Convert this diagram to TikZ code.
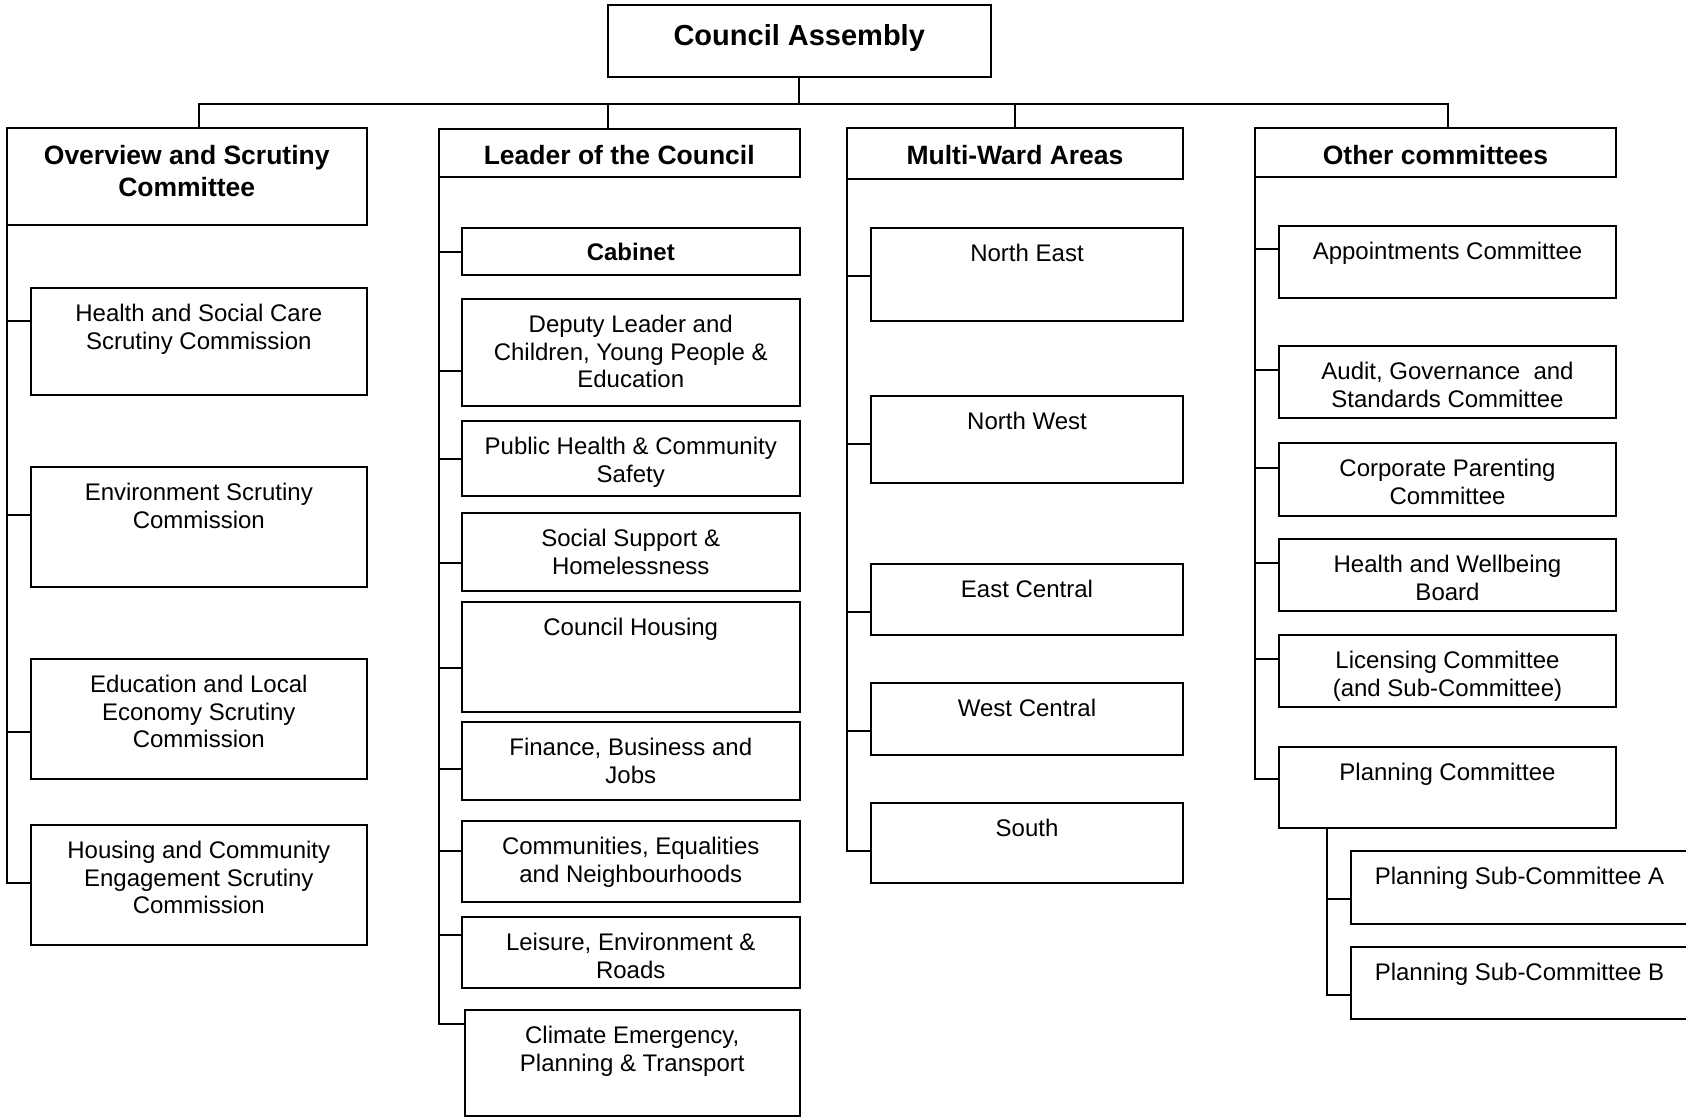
\documentclass[tikz,border=0pt]{standalone}
\usepackage{fontspec}
\setmainfont{Liberation Sans}
\usetikzlibrary{positioning,calc}

\begin{document}
\begin{tikzpicture}[x=1pt,y=1pt,
  box/.style={draw, line width=2pt, anchor=north west, inner sep=0pt, outer sep=0pt, minimum width=337pt},
  txt/.style={font=\fontsize{24}{27.3}\selectfont, align=center, inner sep=0pt},
  headtxt/.style={font=\bfseries\fontsize{26.5}{31.5}\selectfont, align=center, inner sep=0pt},
  link/.style={line width=2pt}]
\useasboundingbox (0,0) rectangle (1686,-1117);

% Council Assembly
\node[box, minimum width=383.5pt, minimum height=72pt] (ca) at (607.5,-5) {};
\node[headtxt, font=\bfseries\fontsize{29}{32}\selectfont, below=19.2pt of ca.north] (ca-t) {Council Assembly};

% heads
\node[box, minimum width=360.5pt, minimum height=97pt] (ov) at (6.5,-128) {};
\node[headtxt, below=17.5pt of ov.north] (ov-t) {Overview and Scrutiny\\Committee};
\node[box, minimum width=360.5pt, minimum height=48pt] (ld) at (439,-129) {};
\node[headtxt, below=16pt of ld.north] (ld-t) {Leader of the Council};
\node[box, minimum width=336pt, minimum height=51pt] (mw) at (847,-128) {};
\node[headtxt, below=17.5pt of mw.north] (mw-t) {Multi-Ward Areas};
\node[box, minimum width=361pt, minimum height=49pt] (oth) at (1255,-128) {};
\node[headtxt, below=17.5pt of oth.north] (oth-t) {Other committees};

% Overview and Scrutiny
\node[box, minimum width=336.4pt, minimum height=107pt] (hsc) at (30.6,-288) {};
\node[txt, below=16.3pt of hsc.north] (hsc-t) {Health and Social Care\\Scrutiny Commission};
\node[box, minimum width=336.4pt, minimum height=120pt] (env) at (30.6,-467) {};
\node[txt, below=16.3pt of env.north] (env-t) {Environment Scrutiny\\Commission};
\node[box, minimum width=336.4pt, minimum height=120pt] (edu) at (30.6,-659) {};
\node[txt, below=16.3pt of edu.north] (edu-t) {Education and Local\\Economy Scrutiny\\Commission};
\node[box, minimum width=336.4pt, minimum height=120pt] (hou) at (30.6,-825) {};
\node[txt, below=16.3pt of hou.north] (hou-t) {Housing and Community\\Engagement Scrutiny\\Commission};

% Leader of the Council
\node[box, minimum width=337.5pt, minimum height=47pt] (cab) at (462,-228) {};
\node[txt, font=\bfseries\fontsize{24}{27.3}\selectfont, below=14.8pt of cab.north] (cab-t) {Cabinet};
\node[box, minimum width=337.5pt, minimum height=107pt] (dep) at (462,-299) {};
\node[txt, below=16.3pt of dep.north] (dep-t) {Deputy Leader and\\Children, Young People \&\\Education};
\node[box, minimum width=337.5pt, minimum height=75pt] (phc) at (462,-421) {};
\node[txt, below=16.3pt of phc.north] (phc-t) {Public Health \& Community\\Safety};
\node[box, minimum width=337.5pt, minimum height=78pt] (ssh) at (462,-513) {};
\node[txt, below=16.3pt of ssh.north] (ssh-t) {Social Support \&\\Homelessness};
\node[box, minimum width=337.5pt, minimum height=110pt] (chs) at (462,-602) {};
\node[txt, below=16.3pt of chs.north] (chs-t) {Council Housing};
\node[box, minimum width=337.5pt, minimum height=78pt] (fbj) at (462,-722) {};
\node[txt, below=16.3pt of fbj.north] (fbj-t) {Finance, Business and\\Jobs};
\node[box, minimum width=337.5pt, minimum height=81pt] (ceq) at (462,-821) {};
\node[txt, below=16.3pt of ceq.north] (ceq-t) {Communities, Equalities\\and Neighbourhoods};
\node[box, minimum width=337.5pt, minimum height=71pt] (les) at (462,-917) {};
\node[txt, below=16.3pt of les.north] (les-t) {Leisure, Environment \&\\Roads};
\node[box, minimum width=334.5pt, minimum height=106pt] (clim) at (465,-1010) {};
\node[txt, below=16.3pt of clim.north] (clim-t) {Climate Emergency,\\Planning \& Transport};

% Multi-Ward Areas
\node[box, minimum width=312pt, minimum height=93pt] (ne) at (871,-228) {};
\node[txt, below=16.3pt of ne.north] (ne-t) {North East};
\node[box, minimum width=312pt, minimum height=87pt] (nw) at (871,-396) {};
\node[txt, below=16.3pt of nw.north] (nw-t) {North West};
\node[box, minimum width=312pt, minimum height=71pt] (ec) at (871,-564) {};
\node[txt, below=16.3pt of ec.north] (ec-t) {East Central};
\node[box, minimum width=312pt, minimum height=72pt] (wc) at (871,-683) {};
\node[txt, below=16.3pt of wc.north] (wc-t) {West Central};
\node[box, minimum width=312pt, minimum height=80pt] (so) at (871,-803) {};
\node[txt, below=16.3pt of so.north] (so-t) {South};

% Other committees
\node[box, minimum height=72pt] (app) at (1279,-226) {};
\node[txt, below=16.3pt of app.north] (app-t) {Appointments Committee};
\node[box, minimum height=72pt] (aud) at (1279,-346) {};
\node[txt, below=16.3pt of aud.north] (aud-t) {Audit, Governance\ \ and\\Standards Committee};
\node[box, minimum height=73pt] (cpc) at (1279,-443) {};
\node[txt, below=16.3pt of cpc.north] (cpc-t) {Corporate Parenting\\Committee};
\node[box, minimum height=72pt] (hwb) at (1279,-539) {};
\node[txt, below=16.3pt of hwb.north] (hwb-t) {Health and Wellbeing\\Board};
\node[box, minimum height=72pt] (lic) at (1279,-635) {};
\node[txt, below=16.3pt of lic.north] (lic-t) {Licensing Committee\\(and Sub-Committee)};
\node[box, minimum height=81pt] (pln) at (1279,-747) {};
\node[txt, below=16.3pt of pln.north] (pln-t) {Planning Committee};
\node[box, minimum height=73pt] (psa) at (1351,-851) {};
\node[txt, below=16.3pt of psa.north] (psa-t) {Planning Sub-Committee A};
\node[box, minimum height=72pt] (psb) at (1351,-947) {};
\node[txt, below=16.3pt of psb.north] (psb-t) {Planning Sub-Committee B};

% links
\draw[link] (ca.south) -- ++(0,-27);
\draw[link] ([xshift=12pt]ov.north) -- ++(0,24) -| ([xshift=12.5pt]oth.north);
\draw[link] (ca.south west |- ld.north) -- ++(0,25);
\draw[link] (mw.north) -- ++(0,24);

\foreach \n/\d in {hsc/33, env/48, edu/73}
  \draw[link] ($(\n.north west)+(0,-\d)$) -- ++(-24,0);
\draw[link] (ov.south west) |- ($(hou.north west)+(0,-58)$);

\foreach \n/\d in {cab/24, dep/72, phc/38, ssh/50, chs/66, fbj/47, ceq/30, les/18}
  \draw[link] ($(\n.north west)+(0,-\d)$) -- ++(-23,0);
\draw[link] (ld.south west) |- ($(clim.north west)+(0,-14)$);

\foreach \n in {ne, nw, ec, wc}
  \draw[link] ($(\n.north west)+(0,-47.5)$) -- ++(-24,0);
\draw[link] (mw.south west) |- ($(so.north west)+(0,-48)$);

\foreach \n/\d in {app/23, aud/24, cpc/25, hwb/24, lic/24}
  \draw[link] ($(\n.north west)+(0,-\d)$) -- ++(-24,0);
\draw[link] (oth.south west) |- ($(pln.north west)+(0,-32)$);

\draw[link] ($(psa.north west)+(0,-48)$) -- ++(-24,0);
\draw[link] ($(pln.south west)+(48,0)$) |- ($(psb.north west)+(0,-48)$);
\end{tikzpicture}
\end{document}
